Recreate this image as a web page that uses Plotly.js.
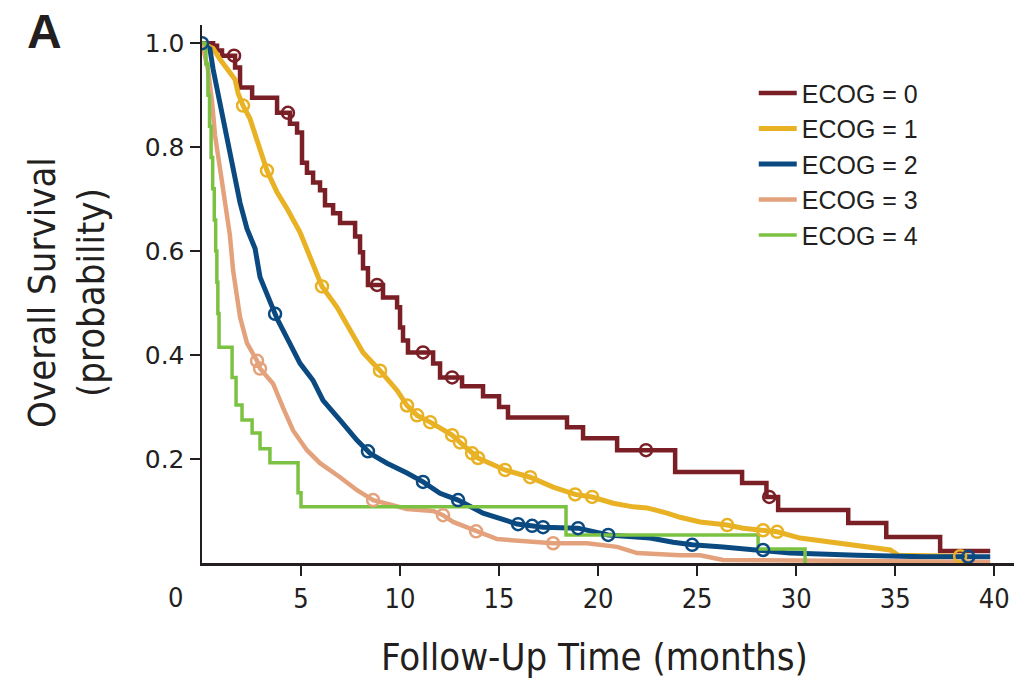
<!DOCTYPE html>
<html><head><meta charset="utf-8">
<script src="https://cdn.plot.ly/plotly-3.0.1.min.js"></script>
<style>html,body{margin:0;padding:0;background:#fff}#chart{width:1026px;height:681px}</style>
</head><body><div id="chart"></div>
<script>
// ECOG = 0 (step curve)
const ecog0Time = [0, 0.56, 0.76, 1.01, 1.67, 1.92, 2.53, 3.79, 4.44, 4.80, 5.05, 5.30, 5.61, 5.96, 6.21, 6.62, 6.97, 7.73, 7.98, 8.13, 8.38, 9.14, 9.85, 10.0, 10.15, 10.40, 11.67, 12.02, 13.13, 14.19, 15.0, 15.45, 18.43, 19.24, 20.96, 23.89, 27.27, 28.5, 29.09, 32.63, 34.55, 37.27, 39.8];
const ecog0Surv = [1.0, 0.995, 0.986, 0.976, 0.953, 0.915, 0.895, 0.866, 0.845, 0.828, 0.770, 0.751, 0.732, 0.717, 0.688, 0.673, 0.654, 0.628, 0.598, 0.567, 0.535, 0.511, 0.492, 0.453, 0.428, 0.405, 0.384, 0.357, 0.340, 0.321, 0.300, 0.280, 0.261, 0.240, 0.217, 0.175, 0.154, 0.127, 0.102, 0.077, 0.050, 0.023, 0.023];
const ecog0Censor = [1.62, 4.34, 8.84, 11.16, 12.63, 22.42, 28.64];

// ECOG = 1
const ecog1Time = [0, 0.56, 0.91, 1.41, 1.67, 1.82, 2.07, 2.42, 2.83, 3.28, 3.79, 4.29, 4.95, 5.61, 6.06, 6.82, 7.47, 8.13, 8.99, 9.85, 10.35, 10.86, 11.52, 12.63, 13.03, 13.64, 13.94, 15.30, 16.57, 17.73, 18.84, 19.70, 20.76, 21.77, 22.47, 23.48, 24.14, 25.15, 26.52, 27.32, 28.33, 29.04, 30.20, 32.22, 33.38, 34.75, 35.15, 38.38];
const ecog1Surv = [1.0, 0.990, 0.969, 0.942, 0.930, 0.904, 0.880, 0.855, 0.809, 0.755, 0.713, 0.682, 0.636, 0.573, 0.532, 0.492, 0.448, 0.405, 0.370, 0.332, 0.303, 0.284, 0.271, 0.246, 0.232, 0.211, 0.202, 0.179, 0.165, 0.146, 0.132, 0.127, 0.115, 0.108, 0.106, 0.096, 0.088, 0.079, 0.073, 0.067, 0.063, 0.060, 0.048, 0.038, 0.031, 0.025, 0.015, 0.013];
const ecog1Censor = [2.07, 3.28, 6.06, 8.99, 10.35, 10.86, 11.52, 12.63, 13.03, 13.64, 13.94, 15.30, 16.57, 18.84, 19.70, 26.52, 28.33, 29.04, 38.28];

// ECOG = 2
const ecog2Time = [0, 0.40, 0.56, 0.91, 1.26, 1.57, 1.92, 2.27, 2.68, 2.93, 3.79, 4.44, 4.95, 5.61, 6.11, 6.97, 7.83, 8.48, 9.34, 10.35, 11.16, 12.02, 12.93, 14.19, 15.91, 17.22, 18.08, 18.99, 20.51, 22.63, 23.79, 24.75, 26.31, 28.33, 29.70, 33.08, 34.75, 36.41, 39.80];
const ecog2Surv = [1.0, 0.989, 0.950, 0.885, 0.822, 0.758, 0.693, 0.643, 0.605, 0.550, 0.470, 0.422, 0.384, 0.351, 0.313, 0.275, 0.236, 0.211, 0.192, 0.173, 0.156, 0.134, 0.121, 0.096, 0.075, 0.069, 0.067, 0.067, 0.054, 0.048, 0.040, 0.035, 0.031, 0.025, 0.019, 0.015, 0.013, 0.012, 0.012];
const ecog2Censor = [0, 3.69, 8.38, 11.16, 12.93, 15.96, 16.67, 17.22, 18.99, 20.51, 24.75, 28.33, 38.69];

// ECOG = 3
const ecog3Time = [0, 0.30, 0.51, 0.66, 0.91, 1.16, 1.41, 1.57, 1.92, 2.27, 2.78, 2.93, 3.59, 4.09, 4.60, 5.30, 5.96, 6.97, 7.83, 8.64, 10.35, 11.67, 12.17, 12.68, 13.84, 14.90, 17.73, 19.44, 20.96, 21.97, 24.14, 25.15, 26.31, 39.80];
const ecog3Surv = [1.0, 0.950, 0.886, 0.822, 0.759, 0.694, 0.630, 0.563, 0.473, 0.423, 0.389, 0.374, 0.345, 0.299, 0.255, 0.217, 0.192, 0.165, 0.140, 0.121, 0.104, 0.100, 0.092, 0.079, 0.061, 0.046, 0.038, 0.038, 0.031, 0.019, 0.015, 0.015, 0.006, 0.002];
const ecog3Censor = [2.78, 2.93, 8.64, 12.17, 13.84, 17.73];

// ECOG = 4 (step curve)
const ecog4Time = [0, 0.20, 0.30, 0.38, 0.46, 0.54, 0.62, 0.69, 0.75, 0.80, 0.86, 1.52, 1.72, 2.02, 2.53, 2.93, 3.43, 4.85, 5.0, 18.38, 28.08, 30.45];
const ecog4Surv = [1.0, 0.96, 0.90, 0.84, 0.78, 0.72, 0.66, 0.60, 0.54, 0.48, 0.415, 0.357, 0.304, 0.275, 0.25, 0.22, 0.193, 0.135, 0.108, 0.054, 0.027, 0.0];

const seriesNames = ['ECOG = 0', 'ECOG = 1', 'ECOG = 2', 'ECOG = 3', 'ECOG = 4'];
const xTickVals = [5, 10, 15, 20, 25, 30, 35, 40];
const yTickVals = [0.2, 0.4, 0.6, 0.8, 1.0];
const yTickText = ['0.2', '0.4', '0.6', '0.8', '1.0'];

const colors = ['#7a1f25', '#e8b224', '#0b4a80', '#e3a27c', '#7cc242'];
const widths = [4.5, 5, 5, 4.5, 3.5];
const ink = '#231f20';

function stepAt(t, s, x) { let v = s[0]; for (let i = 0; i < t.length; i++) { if (t[i] <= x) v = s[i]; } return v; }
function linAt(t, s, x) {
  for (let i = 0; i < t.length - 1; i++) {
    if (x >= t[i] && x <= t[i + 1]) { const f = (t[i + 1] === t[i]) ? 0 : (x - t[i]) / (t[i + 1] - t[i]); return s[i] + f * (s[i + 1] - s[i]); }
  }
  return s[s.length - 1];
}

const curves = [
  {t: ecog0Time, s: ecog0Surv, c: ecog0Censor, shape: 'hv'},
  {t: ecog1Time, s: ecog1Surv, c: ecog1Censor, shape: 'linear'},
  {t: ecog2Time, s: ecog2Surv, c: ecog2Censor, shape: 'linear'},
  {t: ecog3Time, s: ecog3Surv, c: ecog3Censor, shape: 'linear'},
  {t: ecog4Time, s: ecog4Surv, c: [], shape: 'hv'}
];

const traces = [];
curves.forEach((cv, i) => {
  traces.push({x: cv.t, y: cv.s, type: 'scatter', mode: 'lines', name: seriesNames[i],
    line: {color: colors[i], width: widths[i], shape: cv.shape}, hoverinfo: 'skip'});
});
curves.forEach((cv, i) => {
  if (!cv.c.length) return;
  const ys = cv.c.map(x => cv.shape === 'hv' ? stepAt(cv.t, cv.s, x) : linAt(cv.t, cv.s, x));
  traces.push({x: cv.c, y: ys, type: 'scatter', mode: 'markers', showlegend: false, hoverinfo: 'skip',
    marker: {symbol: 'circle-open', size: 12, color: colors[i], line: {width: 2.5, color: colors[i]}}});
});

const condensed = '"Liberation Sans Narrow", "DejaVu Sans Condensed", sans-serif';

const layout = {
  width: 1026, height: 681,
  margin: {l: 202, r: 12, t: 25, b: 118},
  paper_bgcolor: '#fff', plot_bgcolor: '#fff',
  showlegend: true,
  legend: {x: 0.6795, y: 0.916, xanchor: 'left', yanchor: 'top', bgcolor: 'rgba(0,0,0,0)', itemwidth: 38,
    font: {family: 'Liberation Sans, Arial, sans-serif', size: 25, color: ink}, tracegroupgap: 0},
  xaxis: {range: [0, 41], showgrid: false, zeroline: false, showline: true, linecolor: ink, linewidth: 2.5,
    ticks: 'outside', ticklen: 10, tickwidth: 2, tickcolor: ink, tickvals: xTickVals,
    tickfont: {family: condensed, size: 27, color: ink}},
  yaxis: {range: [0, 1.035], showgrid: false, zeroline: false, showline: true, linecolor: ink, linewidth: 2.5,
    ticks: 'outside', ticklen: 10, tickwidth: 2, tickcolor: ink, tickvals: yTickVals, ticktext: yTickText,
    tickfont: {family: 'DejaVu Sans, sans-serif', size: 25, color: ink}},
  annotations: [
    {text: '<b>A</b>', xref: 'paper', yref: 'paper', x: (25 - 202) / 812, y: (563 - 32) / 538, xanchor: 'left', yanchor: 'middle',
      showarrow: false, font: {family: 'Liberation Sans, Arial, sans-serif', size: 48, color: ink}},
    {text: '0', xref: 'paper', yref: 'paper', x: (175 - 202) / 812, y: (563 - 597) / 538, xanchor: 'center', yanchor: 'middle',
      showarrow: false, font: {family: condensed, size: 27, color: ink}},
    {text: 'Follow-Up Time (months)', xref: 'paper', yref: 'paper', x: (594 - 202) / 812, y: (563 - 657) / 538,
      xanchor: 'center', yanchor: 'middle', showarrow: false, font: {family: '"DejaVu Sans Condensed", sans-serif', size: 38, color: ink}},
    {text: 'Overall Survival<br>(probability)', xref: 'paper', yref: 'paper', x: (66 - 202) / 812, y: (563 - 293) / 538,
      xanchor: 'center', yanchor: 'middle', textangle: -90, showarrow: false,
      font: {family: '"DejaVu Sans Condensed", sans-serif', size: 38, color: ink}}
  ]
};

Plotly.newPlot('chart', traces, layout, {staticPlot: true, displayModeBar: false});
</script>
</body></html>
